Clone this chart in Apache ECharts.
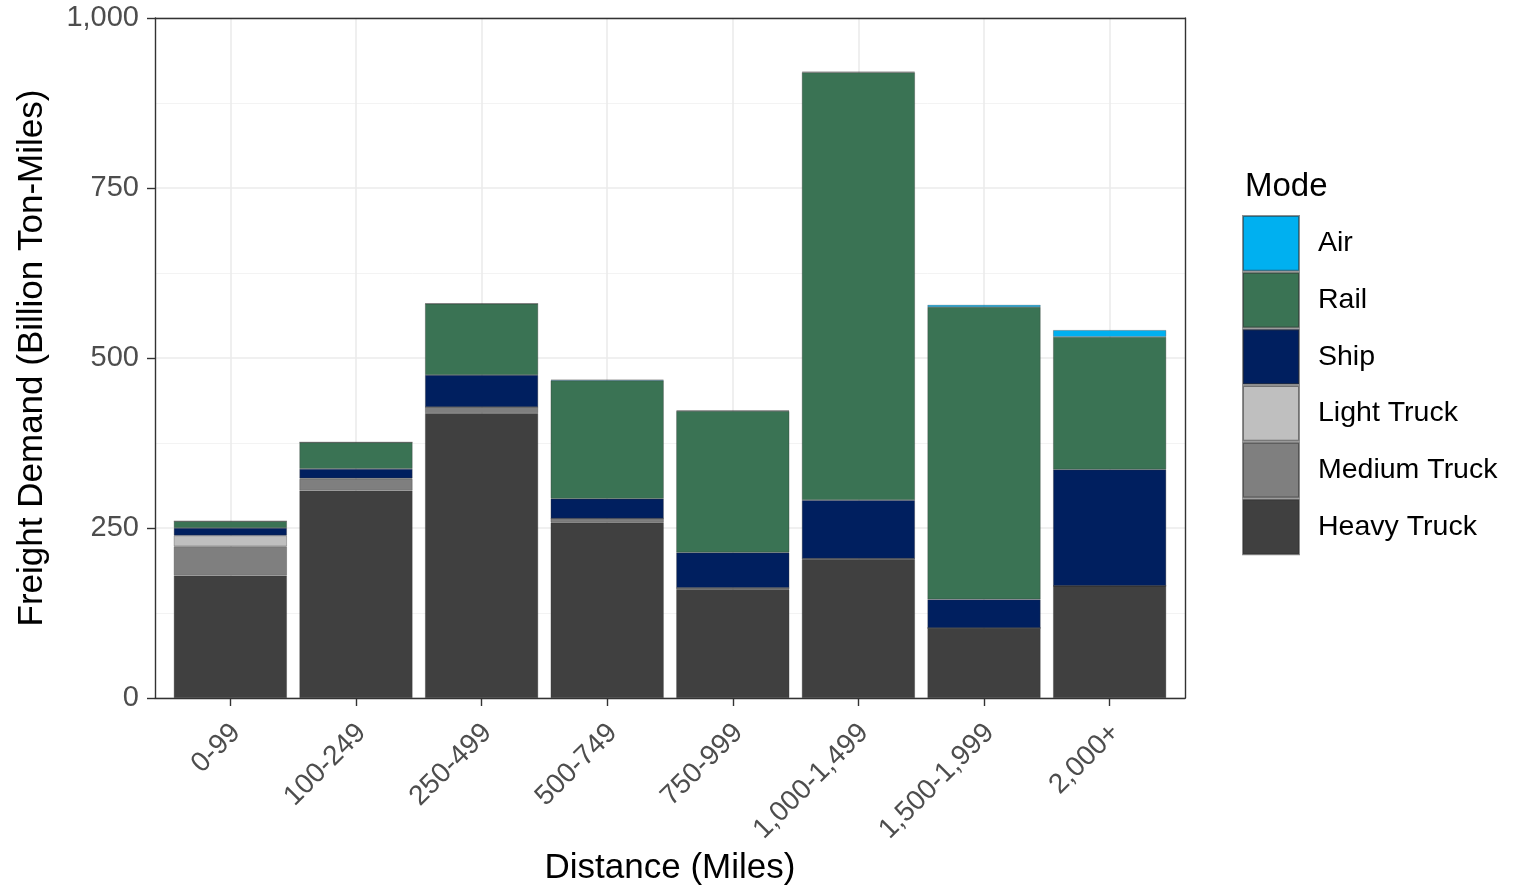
<!DOCTYPE html>
<html>
<head>
<meta charset="utf-8">
<script src="https://cdn.jsdelivr.net/npm/echarts@6/dist/echarts.min.js"></script>
<style>html,body{margin:0;padding:0;background:#fff}#c{width:1531px;height:888px}</style>
</head>
<body>
<div id="c"></div>
<script>
const categories = ['0-99','100-249','250-499','500-749','750-999','1,000-1,499','1,500-1,999','2,000+'];
const heavyTruck  = [180, 305, 419, 258, 160, 204, 103, 165];
const mediumTruck = [43, 17, 9, 6, 2, 1, 0, 0];
const lightTruck  = [16, 1, 0, 0, 0, 0, 0, 0];
const ship        = [11, 14, 47, 29, 52, 86, 42, 171];
const rail        = [10, 39, 105, 174, 208, 629, 430, 195];
const air         = [0, 0, 0, 1, 1, 1, 3, 10];
const yTicks = [0, 250, 500, 750, 1000];
const legendOrder = ['Air','Rail','Ship','Light Truck','Medium Truck','Heavy Truck'];

const modes = [
  {name:'Heavy Truck', data:heavyTruck, color:'#404040'},
  {name:'Medium Truck', data:mediumTruck, color:'#7F7F7F'},
  {name:'Light Truck', data:lightTruck, color:'#BFBFBF'},
  {name:'Ship', data:ship, color:'#001F5F'},
  {name:'Rail', data:rail, color:'#3A7354'},
  {name:'Air', data:air, color:'#00B0F0'}
];

const font = '"Liberation Sans", Arial, sans-serif';
const chart = echarts.init(document.getElementById('c'));

// panel: 155..1185 px; ggplot discrete expansion 0.6 each side of 8 categories
const panelLeft = 155, panelWidth = 1030, nCat = categories.length;
const unit = panelWidth / (nCat + 0.2);
const innerLeft = panelLeft + 0.1 * unit, innerWidth = nCat * unit;

const series = modes.map(m => ({
  name: m.name,
  type: 'bar',
  stack: 'total',
  xAxisIndex: 2, yAxisIndex: 2,
  data: m.data,
  barCategoryGap: '10%',
  z: 3,
  itemStyle: {color: m.color, borderColor: 'rgba(50,50,50,0.55)', borderWidth: 0.6},
  emphasis: {disabled: true}
}));
series.push({
  name: 'vgrid',
  type: 'line',
  xAxisIndex: 2, yAxisIndex: 2,
  data: [],
  silent: true,
  markLine: {
    z: 1,
    silent: true,
    symbol: 'none',
    label: {show: false},
    lineStyle: {color: '#EBEBEB', width: 1.6, type: 'solid'},
    data: categories.map(c => ({xAxis: c}))
  }
});

const border = {show: true, onZero: false, lineStyle: {color: '#333', width: 1.4}};
const hidden = {show: false};

chart.setOption({
  animation: false,
  textStyle: {fontFamily: font},
  title: {
    text: 'Mode', left: 1240, top: 165,
    textStyle: {fontFamily: font, fontSize: 33, fontWeight: 'normal', color: '#000'}
  },
  legend: {
    orient: 'vertical', left: 1242, top: 215,
    itemWidth: 56, itemHeight: 54.7, itemGap: 0, padding: 0,
    icon: 'rect',
    data: legendOrder,
    textStyle: {fontFamily: font, fontSize: 28.5, color: '#000', padding: [0,0,0,14]}
  },
  grid: [
    {left: panelLeft, top: 18, width: panelWidth, height: 680, show: false, outerBoundsMode: 'none', containLabel: false},
    {left: innerLeft, top: 18, width: innerWidth, height: 680, show: false, outerBoundsMode: 'none', containLabel: false}
  ],
  xAxis: [
    {gridIndex: 0, type: 'value', min: 0, max: 1, position: 'bottom', z: 10,
      axisLine: border, axisTick: hidden, axisLabel: hidden, splitLine: hidden},
    {gridIndex: 0, type: 'value', min: 0, max: 1, position: 'top', z: 10,
      axisLine: border, axisTick: hidden, axisLabel: hidden, splitLine: hidden},
    {gridIndex: 1, type: 'category', data: categories,
      name: 'Distance (Miles)', nameLocation: 'middle', nameGap: 152,
      nameTextStyle: {fontFamily: font, fontSize: 35, color: '#000'},
      axisLine: {show: false, onZero: false},
      axisTick: {show: true, alignWithLabel: true, length: 8, lineStyle: {color: '#333', width: 1.4}},
      axisLabel: {rotate: 45, fontSize: 28, color: '#4D4D4D', margin: 15, fontFamily: font, interval: 0,
        verticalAlign: 'top', padding: [1, 7, 0, 0]},
      splitLine: hidden}
  ],
  yAxis: [
    {gridIndex: 0, type: 'value', min: 0, max: 1000, interval: 250, position: 'left',
      name: 'Freight Demand (Billion Ton-Miles)', nameLocation: 'middle', nameGap: 105,
      nameTextStyle: {fontFamily: font, fontSize: 35, color: '#000'},
      axisLine: border,
      axisTick: {show: true, length: 8, lineStyle: {color: '#333', width: 1.4}},
      axisLabel: {fontSize: 29, color: '#4D4D4D', margin: 16, fontFamily: font,
        formatter: v => yTicks.includes(v) ? v.toLocaleString('en-US') : ''},
      splitLine: {show: true, lineStyle: {color: '#EBEBEB', width: 1.6}},
      minorTick: {show: false, splitNumber: 2},
      minorSplitLine: {show: true, lineStyle: {color: '#F2F2F2', width: 0.9}}},
    {gridIndex: 0, type: 'value', min: 0, max: 1000, interval: 250, position: 'right', z: 10,
      axisLine: border, axisTick: hidden, axisLabel: hidden, splitLine: hidden},
    {gridIndex: 1, type: 'value', min: 0, max: 1000, interval: 250, show: false}
  ],
  series: series
});
</script>
</body>
</html>
